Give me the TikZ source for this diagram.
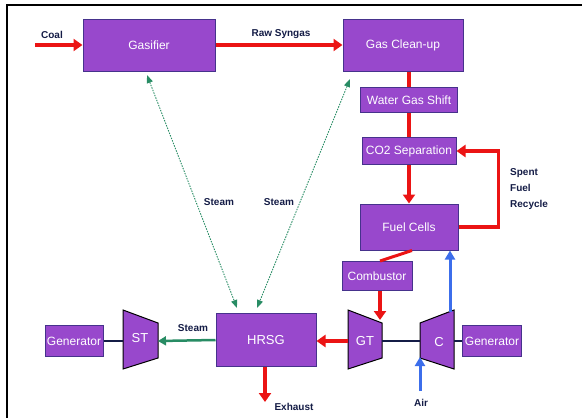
\documentclass[tikz,border=0pt]{standalone}
\usepackage{fontspec}
\setmainfont{Liberation Sans}
\usetikzlibrary{arrows.meta}

\definecolor{boxfill}{RGB}{152,72,204}
\definecolor{boxedge}{RGB}{70,50,140}
\definecolor{flowred}{RGB}{235,20,20}
\definecolor{flowblue}{RGB}{60,110,235}
\definecolor{flowgreen}{RGB}{40,140,100}
\definecolor{labelnavy}{RGB}{20,28,70}

\tikzset{
  box/.style={draw=boxedge, line width=1pt, fill=boxfill, text=white, inner sep=0pt, font=\fontsize{12}{14}\selectfont},
  turbine/.style={draw=black, line width=1pt, fill=boxfill},
  turbtext/.style={text=white, inner sep=0pt, font=\fontsize{13}{15}\selectfont},
  lbl/.style={text=labelnavy, inner sep=0pt, font=\bfseries\fontsize{10}{11}\selectfont},
  redline/.style={draw=flowred, line width=3.5pt},
  redarrow/.style={flowred, line width=3.5pt, -{Triangle[length=9pt,width=12pt]}},
  bluearrow/.style={flowblue, line width=3pt, -{Triangle[length=9pt,width=10pt]}},
  greenarrow/.style={flowgreen, line width=2.5pt, -{Triangle[length=8pt,width=9pt]}},
  steamlink/.style={flowgreen, line width=0.9pt, dash pattern=on 1.5pt off 1.2pt, {Triangle[length=8pt,width=6pt]}-{Triangle[length=8pt,width=6pt]}},
  shaft/.style={draw=labelnavy, line width=1.2pt}
}

\begin{document}
\begin{tikzpicture}[x=1pt, y=-1pt]
\useasboundingbox (0,0) rectangle (582,418);
% frame
\draw [line width=2pt] (7,418) -- (7,5) -- (582,5);

% process boxes
\node [box, minimum width=132pt, minimum height=52pt] (gasifier) at (149,45) {Gasifier};
\node [box, minimum width=120pt, minimum height=52pt] (cleanup) at (403,45) {Gas Clean-up};
\node [box, minimum width=97pt, minimum height=25pt] (shift) at (409,100) {Water Gas Shift};
\node [box, minimum width=94pt, minimum height=27pt] (sep) at (409,151) {CO2 Separation};
\node [box, minimum width=98pt, minimum height=46pt] (cells) at (409,227) {Fuel Cells};
\node [box, minimum width=70pt, minimum height=29pt] (comb) at (377,276) {Combustor};
\node [box, minimum width=100pt, minimum height=53pt, font=\fontsize{13}{15}\selectfont] (hrsg) at (266,340) {HRSG};
\node [box, minimum width=58pt, minimum height=31pt] (genL) at (74,341) {Generator};
\node [box, minimum width=59pt, minimum height=31pt] (genR) at (492,341) {Generator};

% turbines
\draw [turbine] (123,310) -- (158,323) -- (158,358) -- (123,369) -- cycle;
\node [turbtext] (st) at (140,338) {ST};
\draw [turbine] (348,310) -- (382,323) -- (382,358) -- (348,369) -- cycle;
\node [turbtext] (gt) at (365,341) {GT};
\draw [turbine] (420,323) -- (454,310) -- (454,369) -- (420,358) -- cycle;
\node [turbtext] (comp) at (439,342) {C};

\coordinate (stL) at (123,341);
\coordinate (stR) at (158,341);
\coordinate (gtL) at (348,341);
\coordinate (gtR) at (382,341);
\coordinate (gtTop) at (380,320);
\coordinate (compL) at (420,341);
\coordinate (compR) at (454,341);
\coordinate (compBot) at (420,357);
\coordinate (compTop) at (450,312);
\coordinate (coal) at (35,45);
\coordinate (air) at (420,391);
\coordinate (exhaust) at (265,402);

% labels
\node [lbl] (coalLbl) at (52,35) {Coal};
\node [lbl] (syngasLbl) at (281,34) {Raw Syngas};
\node [lbl] (steamA) at (219,202) {Steam};
\node [lbl] (steamB) at (279,202) {Steam};
\node [lbl] (steamC) at (193,328) {Steam};
\node [lbl, align=left, anchor=north west, font=\bfseries\fontsize{10}{16}\selectfont] (recycleLbl) at (510,168) {Spent\\Fuel\\Recycle};
\node [lbl] (exhaustLbl) at (294,407) {Exhaust};
\node [lbl] (airLbl) at (421,403) {Air};

% syngas path
\draw [redarrow] (coal) -- (gasifier.west);
\draw [redarrow] (gasifier.east) -- (cleanup.west);
\draw [redline] (cleanup.south -| shift.north) -- (shift.north);
\draw [redline] (shift.south) -- (sep.north);
\draw [redarrow] (sep.south) -- (cells.north);
\draw [redarrow] (cells.east) -- ++(40,0) |- (sep.east);
\draw [redline, line width=3pt] ([xshift=3pt]cells.south) -- ([xshift=3pt]comb.north);
\draw [redarrow] ([xshift=3pt]comb.south) -- (gtTop);
\draw [redarrow] (gtL) -- (gt.west -| hrsg.east);
\draw [redarrow] ([xshift=-1pt]hrsg.south) -- (exhaust);

% air path
\draw [bluearrow] (air) -- (compBot);
\draw [bluearrow] (compTop) -- (compTop |- cells.south);

% shafts
\draw [shaft] (gtR) -- (compL);
\draw [shaft] (compR) -- (genR.west);
\draw [shaft] (genL.east) -- (stL);

% steam
\draw [greenarrow] (hrsg.west) -- (stR);
\draw [steamlink] (147,75) -- (237,308);
\draw [steamlink] (350,79) -- (257,308);
\end{tikzpicture}
\end{document}
